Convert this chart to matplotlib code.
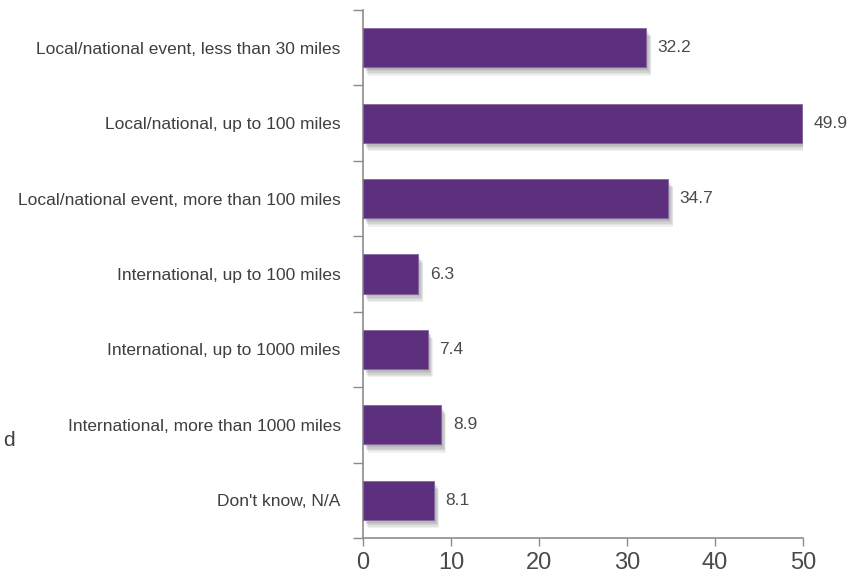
import matplotlib.pyplot as plt
import matplotlib.patheffects as pe

categories = [
    "Local/national event, less than 30 miles",
    "Local/national, up to 100 miles",
    "Local/national event, more than 100 miles",
    "International, up to 100 miles",
    "International, up to 1000 miles",
    "International, more than 1000 miles",
    "Don't know, N/A",
]
values = [32.2, 49.9, 34.7, 6.3, 7.4, 8.9, 8.1]
x_ticks = [0, 10, 20, 30, 40, 50]

plt.rcParams['font.family'] = ['Liberation Sans', 'DejaVu Sans']

bar_color = '#5c307d'
text_color = '#3f3f3f'
axis_color = '#8c8c8c'

fig = plt.figure(figsize=(8.49, 5.77), dpi=100)
ax = fig.add_axes([363 / 849, 1 - 538 / 577, 440 / 849, 528 / 577])

pos = list(range(len(categories)))

# soft drop shadow built from a few offset layers
shadow = [pe.SimplePatchShadow(offset=(0.6 * o, -o), shadow_rgbFace='#000000', alpha=0.06)
          for o in (1, 2, 3, 4, 5, 6)]
bars = ax.barh(pos, values, height=0.52, color=bar_color, edgecolor='#8466a0',
               linewidth=0.6, zorder=3)
for b in bars:
    b.set_path_effects(shadow + [pe.Normal()])

for p, v in zip(pos, values):
    ax.text(v + 1.3, p, f"{v:.1f}", va='center', ha='left',
            fontsize=12.5, color='#4a4a4a')

ax.set_xlim(0, 50)
ax.set_ylim(len(categories) - 0.5, -0.5)

ax.set_yticks(pos)
ax.set_yticklabels(categories, fontsize=12.5, color=text_color)
ax.set_yticks([p - 0.5 for p in pos] + [len(pos) - 0.5], minor=True)
ax.tick_params(axis='y', which='major', length=0, pad=16)
ax.tick_params(axis='y', which='minor', length=7, width=1, color=axis_color)

ax.set_xticks(x_ticks)
ax.set_xticklabels([str(t) for t in x_ticks], fontsize=17, color='#4a4a4a')
ax.tick_params(axis='x', length=6, width=1, color=axis_color, pad=4)

for side in ('top', 'right'):
    ax.spines[side].set_visible(False)
for side in ('left', 'bottom'):
    ax.spines[side].set_color(axis_color)
    ax.spines[side].set_linewidth(1.2)

fig.text(3 / 849, 1 - 440 / 577, "d", fontsize=15, color=text_color, va='center', ha='left')

fig.savefig('out.png', dpi=100)
